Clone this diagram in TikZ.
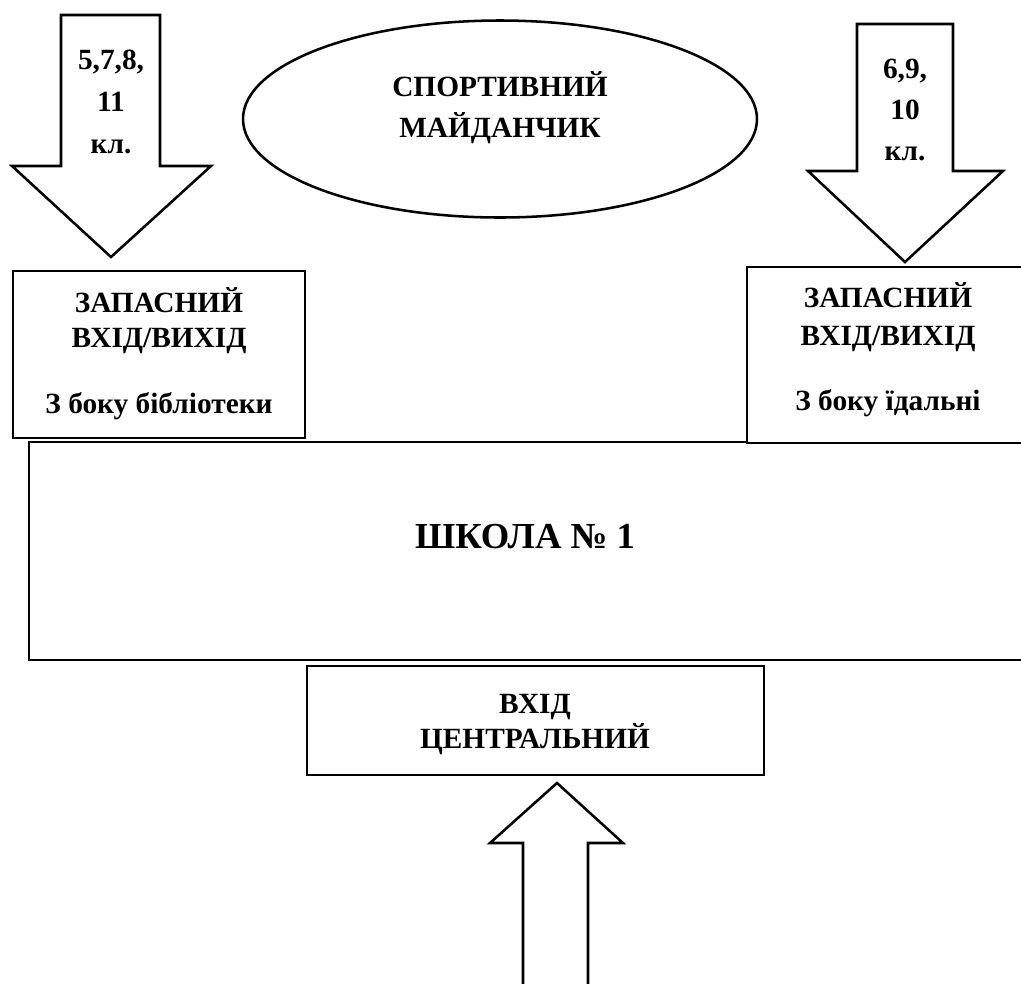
\documentclass[tikz,border=0pt]{standalone}
\usepackage{fontspec}
\setmainfont{Liberation Serif}
\usetikzlibrary{shapes.geometric}
\begin{document}
\begin{tikzpicture}[x=0.75pt,y=-0.75pt,
  outl/.style={draw=black, line width=1.9pt, fill=white, line join=miter},
  boxshape/.style={outl, rectangle, inner sep=0pt},
  lbl/.style={font=\bfseries\fontsize{22}{26.25}\selectfont, align=center, anchor=base, inner sep=0pt},
  ]
\useasboundingbox (0,0) rectangle (1021,983);

% block arrows
\draw[outl] (61,15) -- (160,15) -- (160,166) -- (211,166) -- (111,257) -- (12,166) -- (61,166) -- cycle;
\draw[outl] (857,24) -- (953,24) -- (953,171) -- (1003,171) -- (905,262) -- (808,171) -- (857,171) -- cycle;
\draw[outl] (523,995) -- (523,843) -- (490,843) -- (557,783) -- (623,843) -- (588,843) -- (588,995);

% shapes
\node[outl, ellipse, inner sep=0pt, minimum width=385.5pt, minimum height=147.75pt] (field) at (500,119) {};
\node[boxshape, minimum width=750.75pt, minimum height=163.5pt] (school) at (529.5,551) {};
\node[boxshape, minimum width=219pt, minimum height=125.25pt] (lbox) at (159,354.5) {};
\node[boxshape, minimum width=212.25pt, minimum height=132pt] (rbox) at (888.5,355) {};
\node[boxshape, minimum width=342.75pt, minimum height=81.75pt] (mbox) at (535.5,720.5) {};

% texts (anchor=base is the baseline of the last line)
\node[lbl, font=\bfseries\fontsize{22}{31.5}\selectfont] (ltxt) at (111,153) {5,7,8,\\11\\кл.};
\node[lbl, font=\bfseries\fontsize{22}{30.75}\selectfont] (rtxt) at (905,160) {6,9,\\10\\кл.};
\node[lbl, font=\bfseries\fontsize{22}{30.75}\selectfont] (ftxt) at (500,137) {СПОРТИВНИЙ\\МАЙДАНЧИК};
\node[lbl] (lboxtxt) at (159,413) {ЗАПАСНИЙ\\ВХІД/ВИХІД\\[23pt]З боку бібліотеки};
\node[lbl, font=\bfseries\fontsize{22}{28.5}\selectfont] (rboxtxt) at (888,410) {ЗАПАСНИЙ\\ВХІД/ВИХІД\\[20pt]З боку їдальні};
\node[lbl, font=\bfseries\fontsize{27.5}{30}\selectfont] (stxt) at (525,548) {ШКОЛА № 1};
\node[lbl] (mtxt) at (535,748) {ВХІД\\ЦЕНТРАЛЬНИЙ};
\end{tikzpicture}
\end{document}
